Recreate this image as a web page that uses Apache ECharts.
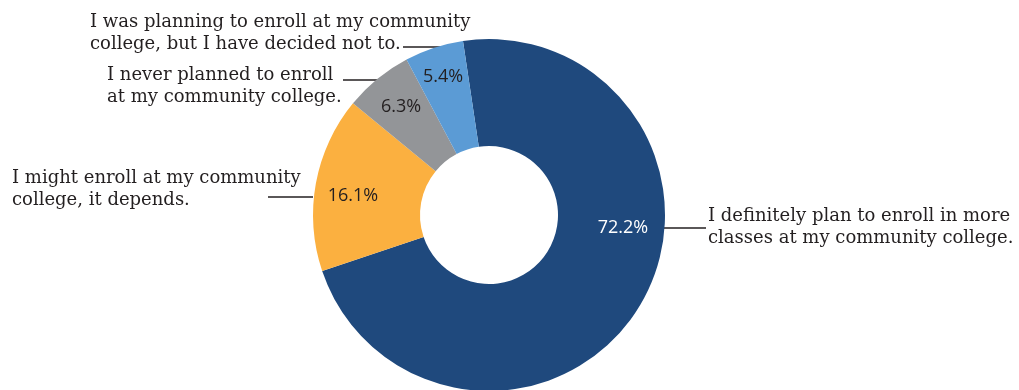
<!DOCTYPE html>
<html>
<head>
<meta charset="utf-8">
<script src="https://cdn.jsdelivr.net/npm/echarts@6/dist/echarts.min.js"></script>
<style>
  html, body { margin: 0; padding: 0; background: #fff; }
  #chart { width: 1019px; height: 390px; }
</style>
</head>
<body>
<div id="chart"></div>
<script>
// Survey answers about continuing at the community college
const categories = [
  'I definitely plan to enroll in more\nclasses at my community college.',
  'I might enroll at my community\ncollege, it depends.',
  'I never planned to enroll\nat my community college.',
  'I was planning to enroll at my community\ncollege, but I have decided not to.'
];
const shares = [72.2, 16.1, 6.3, 5.4];
const sliceColors = ['#1F497D', '#FBB040', '#939598', '#5B9BD5'];
const percentTextColors = ['#ffffff', '#231F20', '#231F20', '#231F20'];

// Where each category caption and percentage sit around the ring
const captionLayout = [
  { x: 708, y: 205, line: [[664, 228], [706, 228]] },
  { x: 12,  y: 167, line: [[313, 197], [268, 197]] },
  { x: 107, y: 64,  line: [[380, 80], [343, 80]] },
  { x: 90,  y: 11,  line: [[445, 47], [403, 47]] }
];
const percentLayout = [
  { x: 623, y: 228 },
  { x: 353, y: 196 },
  { x: 401, y: 107 },
  { x: 443, y: 77 }
];

const data = categories.map((name, i) => ({
  name,
  value: shares[i],
  itemStyle: { color: sliceColors[i] }
}));

const chart = echarts.init(document.getElementById('chart'), null, { renderer: 'canvas' });

const ring = {
  center: [489, 215],
  radius: [69, 176],
  startAngle: 98.5,
  clockwise: true,
  avoidLabelOverlap: false,
  silent: true,
  animation: false
};

chart.setOption({
  backgroundColor: '#ffffff',
  series: [
    Object.assign({}, ring, {
      type: 'pie',
      data: data.map((d, i) => Object.assign({}, d, {
        label: { color: percentTextColors[i] }
      })),
      label: {
        show: true,
        position: 'inside',
        formatter: p => p.value.toFixed(1) + '%',
        fontFamily: '"Open Sans", "Noto Sans", sans-serif',
        fontSize: 18
      },
      labelLine: { show: false },
      labelLayout: p => {
        const pos = percentLayout[p.dataIndex];
        return { x: pos.x, y: pos.y, align: 'center', verticalAlign: 'middle' };
      }
    }),
    Object.assign({}, ring, {
      type: 'pie',
      data: data.map(d => ({ name: d.name, value: d.value, itemStyle: { color: 'rgba(0,0,0,0)' } })),
      label: {
        show: true,
        position: 'outside',
        formatter: p => p.name,
        fontFamily: '"DejaVu Serif", serif',
        fontSize: 18,
        lineHeight: 22,
        color: '#231F20',
        align: 'left'
      },
      labelLine: {
        show: true,
        lineStyle: { color: '#231F20', width: 1.3 }
      },
      labelLayout: p => {
        const c = captionLayout[p.dataIndex];
        return {
          x: c.x,
          y: c.y,
          align: 'left',
          verticalAlign: 'top',
          labelLinePoints: [c.line[0], c.line[1], c.line[1]]
        };
      }
    })
  ]
});
</script>
</body>
</html>
